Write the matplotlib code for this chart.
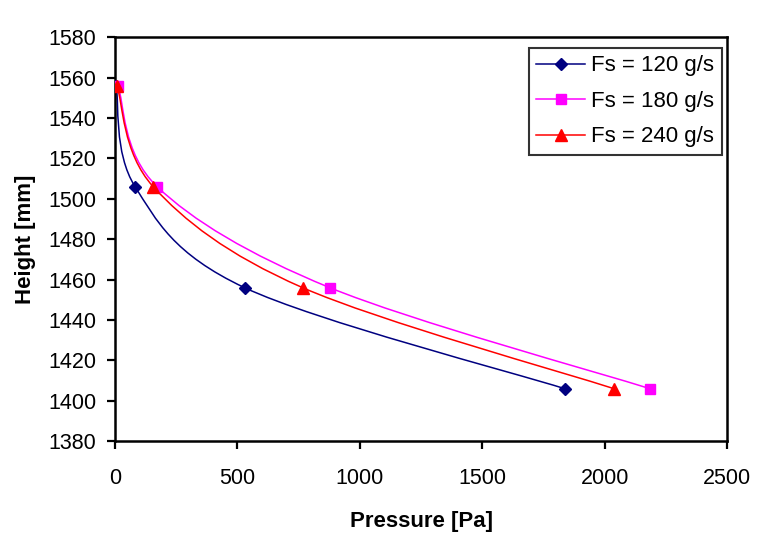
import matplotlib
matplotlib.use("Agg")
import matplotlib.pyplot as plt
from matplotlib.path import Path
from matplotlib.patches import PathPatch
import numpy as np

plt.rcParams['font.family'] = ['Liberation Sans', 'DejaVu Sans']

height = [1556, 1506, 1456, 1406]
p120 = [5, 82, 529, 1836]
p180 = [12, 172, 877, 2184]
p240 = [8, 156, 766, 2037]
labels = ["Fs = 120 g/s", "Fs = 180 g/s", "Fs = 240 g/s"]
colors = ["#000080", "#FF00FF", "#FF0000"]
markers = ["D", "s", "^"]
msizes = [6.5, 7, 9]
xticks = [0, 500, 1000, 1500, 2000, 2500]
yticks = list(range(1380, 1581, 20))

fig = plt.figure(figsize=(7.82, 5.46), dpi=100)
ax = fig.add_axes([0.147, 0.192, 0.783, 0.740])


def smooth_path(xs, ys):
    pts = np.column_stack([xs, ys]).astype(float)
    n = len(pts)
    verts = [pts[0]]
    codes = [Path.MOVETO]
    for i in range(n - 1):
        p0 = pts[i - 1] if i > 0 else pts[i]
        p1 = pts[i]
        p2 = pts[i + 1]
        p3 = pts[i + 2] if i + 2 < n else pts[i + 1]
        c1 = p1 + (p2 - p0) / 6.0
        c2 = p2 - (p3 - p1) / 6.0
        verts += [c1, c2, p2]
        codes += [Path.CURVE4] * 3
    return Path(verts, codes)


for xs, lab, c, m, ms in zip([p120, p180, p240], labels, colors, markers, msizes):
    ax.add_patch(PathPatch(smooth_path(xs, height), facecolor='none',
                           edgecolor=c, lw=1.1, zorder=2))
    ax.plot(xs, height, linestyle='none', marker=m, color=c, ms=ms,
            zorder=3)
    ax.plot([], [], color=c, lw=1.1, marker=m, ms=ms, label=lab)

ax.set_xlim(0, 2500)
ax.set_ylim(1380, 1580)
ax.set_xticks(xticks)
ax.set_yticks(yticks)
ax.tick_params(direction='out', length=5.5, width=1.6, labelsize=15.5,
               top=False, right=False)
ax.tick_params(axis='x', pad=14)
ax.tick_params(axis='y', pad=8)
for s in ax.spines.values():
    s.set_linewidth(1.8)
ax.set_xlabel("Pressure [Pa]", fontsize=16, fontweight='bold', labelpad=16)
ax.set_ylabel("Height [mm]", fontsize=16, fontweight='bold', labelpad=8.5)

leg = ax.legend(loc='upper right', bbox_to_anchor=(0.998, 0.985),
                fontsize=16, frameon=True, fancybox=False,
                edgecolor='black', handlelength=2.2, borderpad=0.35,
                labelspacing=0.65, handletextpad=0.25, borderaxespad=0.2)
leg.get_frame().set_linewidth(1.5)

fig.savefig("out.png", dpi=100)
